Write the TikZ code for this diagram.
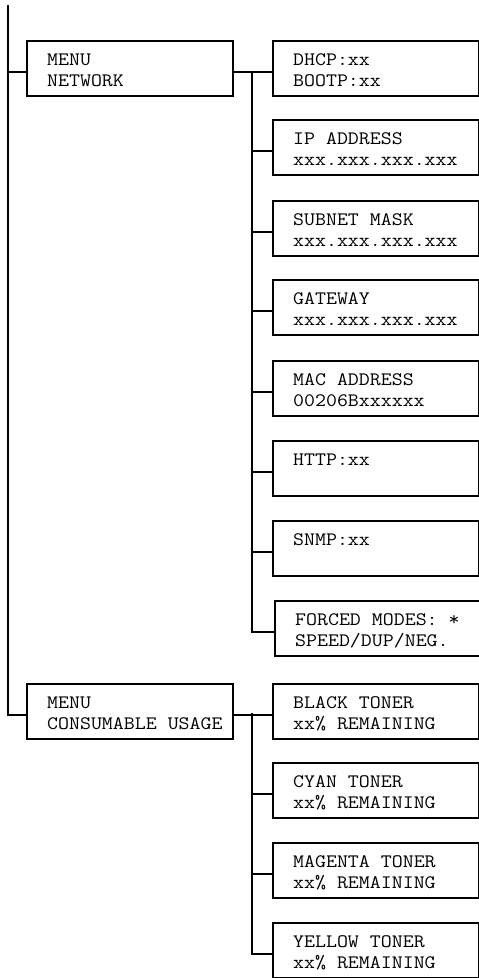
\documentclass[tikz,border=0pt]{standalone}
\usepackage{fontspec}
\usepackage{graphicx}
\begin{document}
\begin{tikzpicture}[x=1pt,y=-1pt,
  box/.style={draw, line width=2pt, minimum width=206pt, minimum height=55pt, inner sep=0pt, anchor=north west},
  txt/.style={anchor=base west, inner sep=0pt,
    font=\ttfamily\fontsize{19}{21}\selectfont},
  wire/.style={line width=2pt}]
\useasboundingbox (0,0) rectangle (479,978);
\newcommand\mybox[5]{%
  \node[box] (#1) at (#2,#3) {};
  \node[txt] (#1t) at (#2+21,#3+25) {\scalebox{1.12}[1]{\vtop{\hbox{#4}\hbox{#5}}}};
  \coordinate (#1c) at ([yshift=-3pt]#1.west);}
% left column
\mybox{mnet}{26}{40}{MENU}{NETWORK}
\mybox{mcon}{26}{683}{MENU}{CONSUMABLE USAGE}
% network items
\mybox{dhcp}{272}{40}{DHCP:xx}{BOOTP:xx}
\mybox{ip}{272}{119}{IP ADDRESS}{xxx.xxx.xxx.xxx}
\mybox{sub}{272}{200}{SUBNET MASK}{xxx.xxx.xxx.xxx}
\mybox{gw}{272}{279}{GATEWAY}{xxx.xxx.xxx.xxx}
\mybox{mac}{272}{360}{MAC ADDRESS}{00206Bxxxxxx}
\mybox{http}{272}{440}{HTTP:xx}{}
\mybox{snmp}{272}{520}{SNMP:xx}{}
\mybox{forc}{274}{600}{FORCED MODES: *}{SPEED/DUP/NEG.}
% consumable items
\mybox{blk}{272}{683}{BLACK TONER}{xx\% REMAINING}
\mybox{cyn}{272}{762}{CYAN TONER}{xx\% REMAINING}
\mybox{mag}{272}{842}{MAGENTA TONER}{xx\% REMAINING}
\mybox{yel}{272}{922}{YELLOW TONER}{xx\% REMAINING}
% main spine
\coordinate (top) at (8,5);
\draw[wire] (top) |- (mconc);
\draw[wire] (mnetc -| top) -- (mnetc);
% network branch
\coordinate (nj) at (252,71);
\draw[wire] ([yshift=-3pt]mnet.east) -- (dhcpc);
\draw[wire] (nj) |- (forcc);
\foreach \n in {ip,sub,gw,mac,http,snmp}{
  \draw[wire] (\n c) -- (nj |- \n c);
}
% consumable branch
\coordinate (cj) at (252,713);
\draw[wire] ([yshift=-3pt]mcon.east) -- (blkc);
\draw[wire] (cj) |- (yelc);
\foreach \n in {cyn,mag}{
  \draw[wire] (\n c) -- (cj |- \n c);
}
\end{tikzpicture}
\end{document}
